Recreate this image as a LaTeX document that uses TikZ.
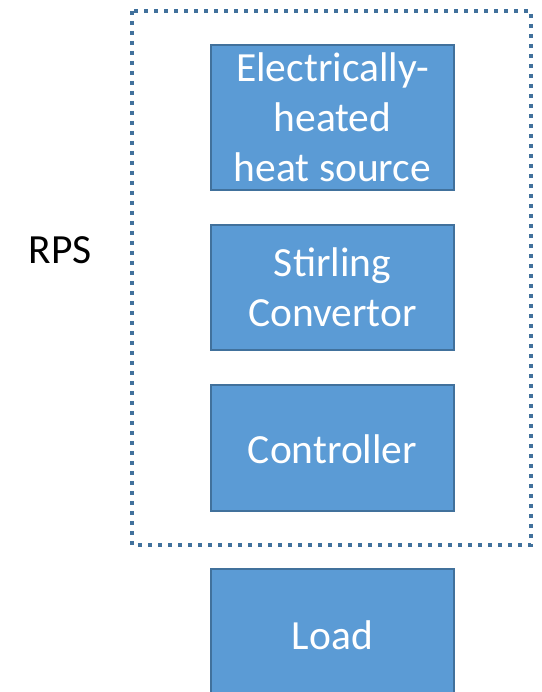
\documentclass[tikz,border=0pt]{standalone}
\usepackage{fontspec}
\setmainfont{Carlito}
\definecolor{boxfill}{HTML}{5B9BD5}
\definecolor{boxline}{HTML}{41719C}
\begin{document}
\begin{tikzpicture}[x=1pt,y=-1pt,
  block/.style={rectangle, fill=boxfill, draw=boxline, line width=2pt,
    minimum width=243pt, inner sep=0pt, align=center, text=white,
    font=\fontsize{41.5}{50}\selectfont},
  frame/.style={draw=boxline, line width=3.8pt, dash pattern=on 3.8pt off 6.2pt}]
\useasboundingbox (0,0) rectangle (541,692);
\begin{scope}
\clip (0,0) rectangle (541,692);
\node[block, minimum height=145pt] (src) at (332.5,117.5) {Electrically-\\heated\\heat source};
\node[block, minimum height=125pt] (stir) at (332.5,287.5) {Stirling\\Convertor};
\node[block, minimum height=126pt, text height=31pt] (ctrl) at (332.5,448) {Controller};
\node[block, minimum height=132pt] (load) at (332.5,635) {Load};
\end{scope}
\coordinate (fa) at (132,11);
\coordinate (fb) at (531,545);
\draw[frame] (fa) rectangle (fb);
\node[font=\fontsize{41.5}{50}\selectfont, inner sep=0pt] (rps) at (60,250) {RPS};
\end{tikzpicture}
\end{document}
